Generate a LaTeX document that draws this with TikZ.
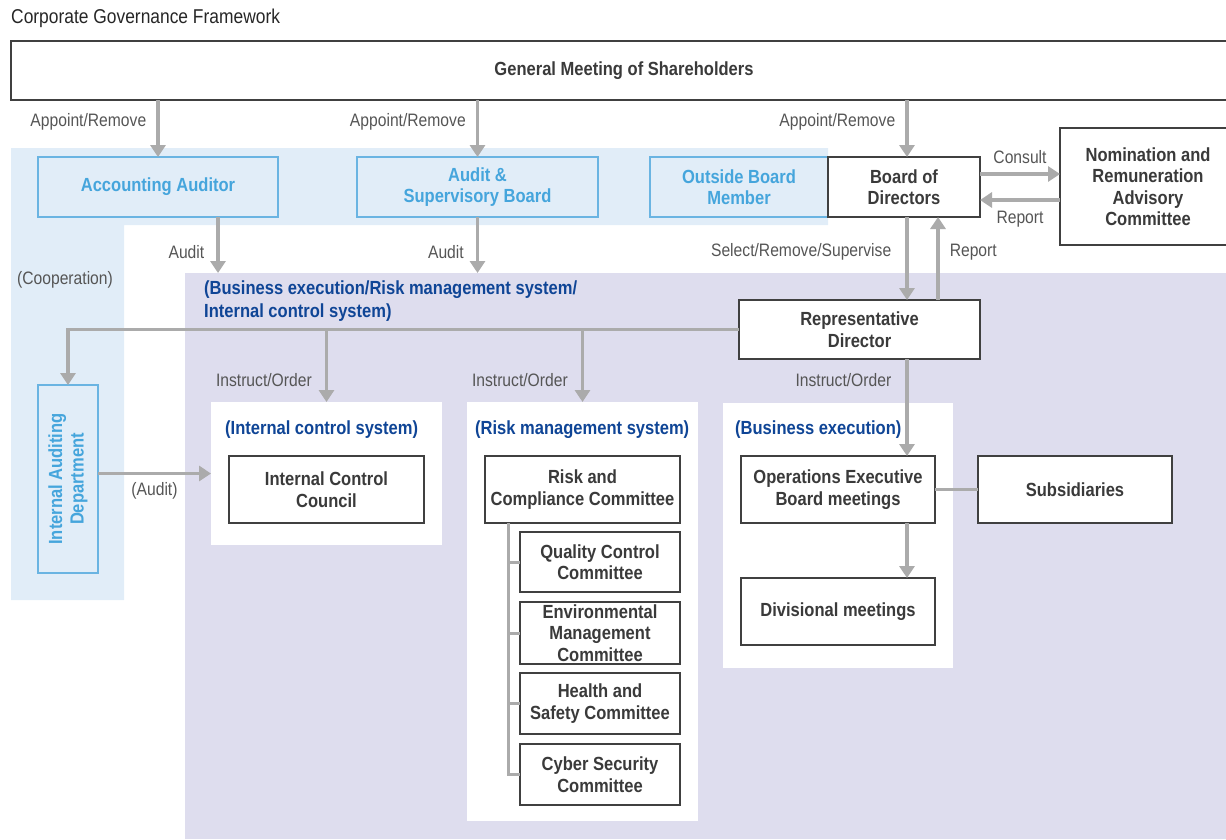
\documentclass[tikz,border=0pt]{standalone}
\usepackage{fontspec}
\setmainfont[FakeStretch=0.87]{Liberation Sans}
\usetikzlibrary{arrows.meta}
\definecolor{boxline}{HTML}{404040}
\definecolor{boxtext}{HTML}{3A3A3A}
\definecolor{lbltext}{HTML}{555555}
\definecolor{arrgray}{HTML}{ABABAB}
\definecolor{audfill}{HTML}{E1EDF8}
\definecolor{audline}{HTML}{6AB4E2}
\definecolor{audtext}{HTML}{45A5DC}
\definecolor{lav}{HTML}{DEDDEE}
\definecolor{headblue}{HTML}{0F4596}

\begin{document}
\begin{tikzpicture}[x=1pt, y=-1pt,
  box/.style={draw=boxline, line width=1.2pt, fill=white, text=boxtext, font=\fontsize{19}{21.5}\selectfont\bfseries, align=center, inner sep=0pt, outer sep=0pt},
  bluebox/.style={box, draw=audline, fill=audfill, text=audtext},
  panel/.style={fill=white, inner sep=0pt, outer sep=0pt},
  arr/.style={draw=arrgray, line width=3.5pt, -{Triangle[width=15pt,length=12pt]}},
  tree/.style={draw=arrgray, line width=3pt},
  lbl/.style={text=lbltext, font=\fontsize{18}{21}\selectfont, inner sep=0pt},
  heading/.style={text=headblue, font=\fontsize{19}{23}\selectfont\bfseries, inner sep=0pt, anchor=west, align=left}]
\useasboundingbox (0,0) rectangle (1226,839);

\node[anchor=west, inner sep=0pt, text=black!85, font=\fontsize{20}{22}\selectfont] (title) at (11,18) {Corporate Governance Framework};

\fill[audfill] (11,148) -- (828,148) -- (828,225) -- (124,225) -- (124,600) -- (11,600) -- cycle;
\node[panel, fill=lav, anchor=north west, minimum width=1041pt, minimum height=566pt] (exec) at (185,273) {};
\node[heading] (exechead) at (204,301.5) {(Business execution/Risk management system/\\Internal control system)};
\node[lbl] (coop) at (65,280) {(Cooperation)};

\node[box, minimum width=1226pt, minimum height=59pt] (gms) at (624,70.5) {General Meeting of Shareholders};
\node[bluebox, minimum width=240pt, minimum height=60pt] (acc) at (158,187) {Accounting Auditor};
\node[bluebox, minimum width=241pt, minimum height=60pt] (asb) at (477.5,187) {Audit \&\\Supervisory Board};
\node[bluebox, minimum width=178pt, minimum height=60pt] (obm) at (739,187) {Outside Board\\Member};
\node[box, minimum width=152pt, minimum height=60pt] (bod) at (904,187) {Board of\\Directors};
\node[box, minimum width=176pt, minimum height=117pt] (nom) at (1148,186.5) {Nomination and\\Remuneration\\Advisory\\Committee};
\node[box, minimum width=241pt, minimum height=59pt] (rep) at (859.5,329.5) {Representative\\Director};
\node[bluebox, rotate=90, minimum width=188pt, minimum height=60pt] (iad) at (68,479) {Internal Auditing\\Department};

\node[panel, minimum width=231pt, minimum height=143pt] (icp) at (326.5,473.5) {};
\node[heading] (icphead) at (225,430) {(Internal control system)};
\node[box, minimum width=195pt, minimum height=67pt] (icc) at (326.5,489.5) {Internal Control\\Council};

\node[panel, minimum width=231pt, minimum height=419pt] (rmp) at (582.5,611.5) {};
\node[heading] (rmphead) at (475,430) {(Risk management system)};
\node[box, minimum width=195pt, minimum height=67pt] (rcc) at (582.5,489.5) {Risk and\\Compliance Committee};
\node[box, minimum width=160pt, minimum height=60pt] (qcc) at (600,562) {Quality Control\\Committee};
\node[box, minimum width=160pt, minimum height=62pt] (emc) at (600,633) {Environmental\\Management\\Committee};
\node[box, minimum width=160pt, minimum height=61pt] (hsc) at (600,703.5) {Health and\\Safety Committee};
\node[box, minimum width=160pt, minimum height=61pt] (csc) at (600,774.5) {Cyber Security\\Committee};

\node[panel, minimum width=230pt, minimum height=265pt] (bep) at (838,535.5) {};
\node[heading] (bephead) at (735,430) {(Business execution)};
\node[box, minimum width=194pt, minimum height=67pt] (ops) at (838,489.5) {Operations Executive\\Board meetings};
\node[box, minimum width=194pt, minimum height=67pt] (div) at (838,611.5) {Divisional meetings};
\node[box, minimum width=194pt, minimum height=67pt] (sub) at (1075,489.5) {Subsidiaries};

\coordinate (down) at (907,0);
\coordinate (up) at (938,0);
\coordinate (audx) at (218,0);
\coordinate (trunk) at (508,0);

\draw[arr] (acc.north |- gms.south) -- node[lbl, left=10pt, pos=.39] {Appoint/Remove} (acc.north);
\draw[arr] (asb.north |- gms.south) -- node[lbl, left=10pt, pos=.39] {Appoint/Remove} (asb.north);
\draw[arr] (down |- gms.south) -- node[lbl, left=10pt, pos=.39] {Appoint/Remove} (down |- bod.north);
\draw[arr] (audx |- acc.south) -- node[lbl, left=12pt, pos=.62] {Audit} (audx |- exec.north);
\draw[arr] (asb.south) -- node[lbl, left=12pt, pos=.62] {Audit} (asb.south |- exec.north);
\draw[arr] (bod.east |- 0,174) -- node[lbl, above=9pt] {Consult} (nom.west |- 0,174);
\draw[arr] (nom.west |- 0,200) -- node[lbl, below=9pt] {Report} (bod.east |- 0,200);
\draw[arr] (down |- bod.south) -- node[lbl, left=14pt, pos=.42] {Select/Remove/Supervise} (down |- rep.north);
\draw[arr] (up |- rep.north) -- node[lbl, right=10pt, pos=.58] {Report} (up |- bod.south);

\draw[arr] (rep.west) -| (iad.east);
\draw[arr] (icp.north |- rep.west) -- node[lbl, left=13pt, pos=.7] {Instruct/Order} (icp.north);
\draw[arr] (rmp.north |- rep.west) -- node[lbl, left=13pt, pos=.7] {Instruct/Order} (rmp.north);
\draw[arr] (down |- rep.south) -- node[lbl, left=14pt, pos=.22] {Instruct/Order} (down |- ops.north);
\draw[arr] (iad.south |- icp.west) -- node[lbl, below=7pt] {(Audit)} (icp.west);
\draw[arr] (down |- ops.south) -- (down |- div.north);
\draw[tree] (ops.east) -- (sub.west);

\draw[tree] (rcc.south -| trunk) -- (csc.west -| trunk) -- (csc.west);
\draw[tree] (qcc.west -| trunk) -- (qcc.west);
\draw[tree] (emc.west -| trunk) -- (emc.west);
\draw[tree] (hsc.west -| trunk) -- (hsc.west);
\end{tikzpicture}
\end{document}
